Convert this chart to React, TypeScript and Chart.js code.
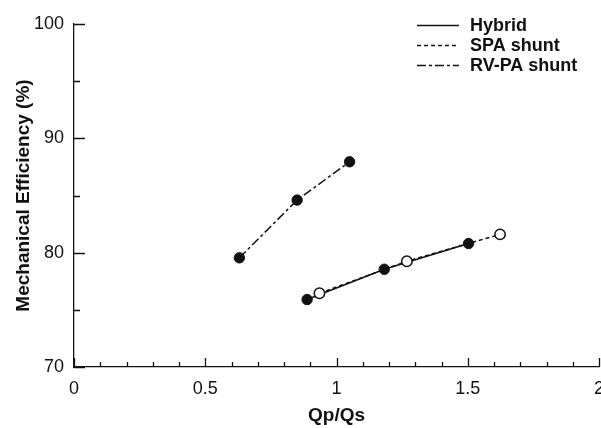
import React, { useEffect, useRef } from "react";
import { Chart, registerables } from "chart.js";

Chart.register(...registerables);

const seriesNames = ["Hybrid", "SPA shunt", "RV-PA shunt"];
const hybridX = [0.888, 1.182, 1.503];
const hybridY = [75.9, 78.55, 80.8];
const spaX = [0.935, 1.268, 1.623];
const spaY = [76.45, 79.25, 81.6];
const rvpaX = [0.63, 0.85, 1.05];
const rvpaY = [79.55, 84.6, 87.95];

const xMajorTicks = [0, 0.5, 1, 1.5, 2];
const xMinorTicks = [0.1, 0.2, 0.3, 0.4, 0.6, 0.7, 0.8, 0.9, 1.1, 1.2, 1.3, 1.4, 1.6, 1.7, 1.8, 1.9];
const yMajorTicks = [70, 80, 90, 100];
const yMinorTicks = [75, 85, 95];

const FONT = "'Liberation Sans', Arial, Helvetica, sans-serif";

const toPoints = (xs: number[], ys: number[]) => xs.map((x, i) => ({ x, y: ys[i] }));

const tickPlugin = {
  id: "innerTicks",
  afterDraw(chart: any) {
    const ctx = chart.ctx;
    const xs = chart.scales.x;
    const ys = chart.scales.y;
    const area = chart.chartArea;
    ctx.save();
    ctx.strokeStyle = "#111";
    ctx.lineWidth = 1.3;
    ctx.beginPath();
    xMajorTicks.forEach((v) => {
      const px = Math.round(xs.getPixelForValue(v)) + 0.5;
      ctx.moveTo(px, area.bottom);
      ctx.lineTo(px, area.bottom - 9);
    });
    xMinorTicks.forEach((v) => {
      const px = Math.round(xs.getPixelForValue(v)) + 0.5;
      ctx.moveTo(px, area.bottom);
      ctx.lineTo(px, area.bottom - 5);
    });
    yMajorTicks.forEach((v) => {
      const py = Math.round(ys.getPixelForValue(v)) + 0.5;
      ctx.moveTo(area.left, py);
      ctx.lineTo(area.left + 11, py);
    });
    yMinorTicks.forEach((v) => {
      const py = Math.round(ys.getPixelForValue(v)) + 0.5;
      ctx.moveTo(area.left, py);
      ctx.lineTo(area.left + 6, py);
    });
    ctx.stroke();
    ctx.restore();
  },
};

const legendPlugin = {
  id: "customLegend",
  afterDraw(chart: any) {
    const ctx = chart.ctx;
    const lineX0 = 417;
    const lineX1 = 459;
    const textX = 470;
    const rowY = [25, 45, 65];
    ctx.save();
    chart.data.datasets.forEach((ds: any, i: number) => {
      const y = rowY[i];
      ctx.strokeStyle = "#111";
      ctx.lineWidth = 1.3;
      ctx.setLineDash(ds.borderDash || []);
      ctx.beginPath();
      ctx.moveTo(lineX0, y + 0.5);
      ctx.lineTo(lineX1, y + 0.5);
      ctx.stroke();
      ctx.setLineDash([]);
      ctx.fillStyle = "#111";
      ctx.font = `bold 18px ${FONT}`;
      ctx.textBaseline = "middle";
      ctx.textAlign = "left";
      ctx.fillText(ds.label, textX, y + 1);
    });
    ctx.restore();
  },
};

export default function App() {
  const ref = useRef<HTMLCanvasElement | null>(null);
  useEffect(() => {
    if (!ref.current) return;
    const chart = new Chart(ref.current, {
      type: "scatter",
      data: {
        datasets: [
          {
            label: seriesNames[0],
            data: toPoints(hybridX, hybridY),
            showLine: true,
            borderColor: "#111",
            borderWidth: 1.5,
            borderDash: [],
            pointRadius: 5.2,
            pointBackgroundColor: "#111",
            pointBorderColor: "#111",
            pointBorderWidth: 1,
            order: 1,
          },
          {
            label: seriesNames[1],
            data: toPoints(spaX, spaY),
            showLine: true,
            borderColor: "#111",
            borderWidth: 1.5,
            borderDash: [4, 3],
            pointRadius: 5.2,
            pointBackgroundColor: "#fff",
            pointBorderColor: "#111",
            pointBorderWidth: 1.5,
            order: 0,
          },
          {
            label: seriesNames[2],
            data: toPoints(rvpaX, rvpaY),
            showLine: true,
            borderColor: "#111",
            borderWidth: 1.5,
            borderDash: [9, 3, 3, 3],
            pointRadius: 5.2,
            pointBackgroundColor: "#111",
            pointBorderColor: "#111",
            pointBorderWidth: 1,
            order: 2,
          },
        ],
      },
      options: {
        responsive: false,
        animation: false,
        layout: { autoPadding: false, padding: { left: 0, top: 24, right: 2, bottom: 0 } },
        plugins: { legend: { display: false }, tooltip: { enabled: false } },
        scales: {
          x: {
            type: "linear",
            min: 0,
            max: 2,
            grid: { display: false, drawTicks: false },
            border: { display: true, color: "#111", width: 1.3 },
            ticks: {
              stepSize: 0.5,
              padding: 11,
              color: "#111",
              font: { family: FONT, size: 18 },
              maxRotation: 0,
              callback: (v: any) => String(Number(v)),
            },
            title: {
              display: true,
              text: "Qp/Qs",
              color: "#111",
              font: { family: FONT, size: 19, weight: "bold" },
              padding: { top: 0, bottom: 1 },
            },
            afterFit: (scale: any) => {
              scale.height = 61;
              scale.paddingLeft = 0;
              scale.paddingRight = 0;
            },
          },
          y: {
            type: "linear",
            min: 70,
            max: 100,
            grid: { display: false, drawTicks: false },
            border: { display: true, color: "#111", width: 1.3 },
            ticks: {
              stepSize: 10,
              padding: 10,
              color: "#111",
              font: { family: FONT, size: 18 },
              callback: (v: any) => String(Number(v)),
            },
            title: {
              display: true,
              text: "Mechanical Efficiency (%)",
              color: "#111",
              font: { family: FONT, size: 19, weight: "bold" },
              padding: { top: 12, bottom: 0 },
            },
            afterFit: (scale: any) => {
              scale.width = 74;
              scale.paddingTop = 0;
              scale.paddingBottom = 0;
            },
          },
        },
      },
      plugins: [tickPlugin, legendPlugin],
    } as any);
    return () => chart.destroy();
  }, []);
  return (
    <div style={{ position: "absolute", left: 0, top: 0, width: 601, height: 428, background: "#fff" }}>
      <canvas ref={ref} width={601} height={428} />
    </div>
  );
}
